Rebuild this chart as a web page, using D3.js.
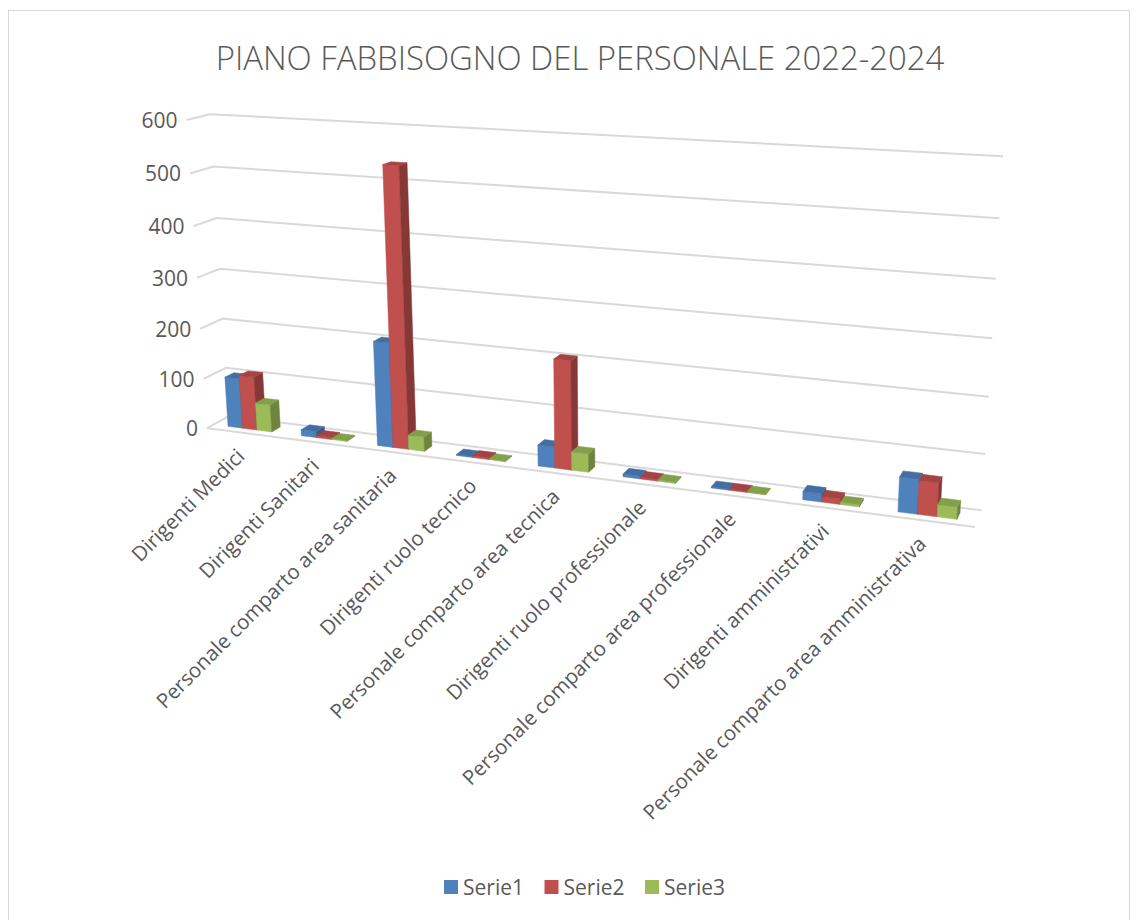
<!DOCTYPE html>
<html>
<head>
<meta charset="utf-8">
<script src="https://cdn.jsdelivr.net/npm/d3@7"></script>
<style>
  body { margin: 0; background: #fff; }
  svg { display: block; }
  text { font-family: "Open Sans", "Liberation Sans", sans-serif; fill: #595959; }
</style>
</head>
<body>
<svg id="chart" width="1138" height="920"></svg>
<script>
// ---- data ----
const chartTitle = "PIANO FABBISOGNO DEL PERSONALE 2022-2024";
const categories = [
  "Dirigenti Medici",
  "Dirigenti Sanitari",
  "Personale comparto area sanitaria",
  "Dirigenti ruolo tecnico",
  "Personale comparto area tecnica",
  "Dirigenti ruolo professionale",
  "Personale comparto area professionale",
  "Dirigenti amministrativi",
  "Personale comparto area amministrativa"
];
const seriesNames = ["Serie1", "Serie2", "Serie3"];
const serie1 = [100, 12, 203, 2, 40, 5, 2, 15, 62];
const serie2 = [107, 4, 535, 3, 205, 3, 2, 10, 60];
const serie3 = [55, 2, 28, 1, 35, 2, 1, 4, 22];
const valueTicks = [0, 100, 200, 300, 400, 500, 600];
const seriesColors = ["#4F81BD", "#C0504D", "#9BBB59"];

// ---- 3D frame: camera calibrated from where the plot box corners sit on the page ----
// world: x along categories (0..1), y along values (0..1), z depth (0 front .. 1 back)
const frameAnchors = [
  { w: [0, 1, 1], p: [210, 114] },
  { w: [1, 1, 1], p: [1003, 157] },
  { w: [0, 0.5, 1], p: [220, 268] },
  { w: [1, 0.5, 1], p: [993, 337] },
  { w: [0, 0, 1], p: [229, 417] },
  { w: [1, 0, 1], p: [981, 511] },
  { w: [0, 1, 0], p: [186, 121] },
  { w: [0, 0.5, 0], p: [197, 277] },
  { w: [0, 0, 0], p: [207, 428] },
  { w: [1, 0, 0], p: [975, 527] }
];

function solveCamera(anchors) {
  const nu = u => (u - 600) / 400, nv = v => (v - 300) / 400;
  const rows = [], rhs = [];
  anchors.forEach(({ w: [X, Y, Z], p: [pu, pv] }) => {
    const u = nu(pu), v = nv(pv);
    rows.push([X, Y, Z, 1, 0, 0, 0, 0, -u * X, -u * Y, -u * Z]); rhs.push(u);
    rows.push([0, 0, 0, 0, X, Y, Z, 1, -v * X, -v * Y, -v * Z]); rhs.push(v);
  });
  const n = 11;
  const M = Array.from({ length: n }, () => new Array(n + 1).fill(0));
  rows.forEach((r, k) => {
    for (let i = 0; i < n; i++) {
      for (let j = 0; j < n; j++) M[i][j] += r[i] * r[j];
      M[i][n] += r[i] * rhs[k];
    }
  });
  for (let c = 0; c < n; c++) {
    let piv = c;
    for (let r = c + 1; r < n; r++) if (Math.abs(M[r][c]) > Math.abs(M[piv][c])) piv = r;
    [M[c], M[piv]] = [M[piv], M[c]];
    for (let r = 0; r < n; r++) {
      if (r === c) continue;
      const f = M[r][c] / M[c][c];
      for (let j = c; j <= n; j++) M[r][j] -= f * M[c][j];
    }
  }
  return M.map((row, i) => row[n] / row[i]);
}

const cam = solveCamera(frameAnchors);
function project(X, Y, Z) {
  const w = cam[8] * X + cam[9] * Y + cam[10] * Z + 1;
  const u = (cam[0] * X + cam[1] * Y + cam[2] * Z + cam[3]) / w;
  const v = (cam[4] * X + cam[5] * Y + cam[6] * Z + cam[7]) / w;
  return [u * 400 + 600, v * 400 + 300];
}

// ---- scales ----
const xSlot = d3.scaleBand().domain(categories).range([0, 1]).paddingInner(0).paddingOuter(0);
const xSeries = d3.scaleBand().domain(seriesNames).range([0.2, 0.8]).paddingInner(0);
const yScale = d3.scaleLinear().domain([0, 600]).range([0, 1]);
const barDepth = [0.3, 0.7];

const svg = d3.select("#chart");

// chart area border
svg.append("rect")
  .attr("x", 8.5).attr("y", 10.5).attr("width", 1121).attr("height", 930)
  .attr("fill", "#fff").attr("stroke", "#d9d9d9").attr("stroke-width", 1);

const line = d3.line();

// gridlines on side and back walls
const grid = svg.append("g").attr("fill", "none").attr("stroke", "#d9d9d9").attr("stroke-width", 2);
valueTicks.forEach(t => {
  const y = yScale(t);
  grid.append("path").attr("d", line([project(0, y, 0), project(0, y, 1), project(1, y, 1)]));
});
// front edge of the floor (category axis)
grid.append("path").attr("d", line([project(0, 0, 0), project(1, 0, 0)]));

// value axis labels
svg.append("g").selectAll("text").data(valueTicks).join("text")
  .attr("x", d => project(0, yScale(d), 0)[0] - 9)
  .attr("y", d => project(0, yScale(d), 0)[1])
  .attr("text-anchor", "end")
  .attr("dominant-baseline", "central")
  .attr("font-size", 21)
  .text(d => d);

// bars, drawn left to right so nearer faces overlap
const seriesValues = [serie1, serie2, serie3];
const bars = [];
categories.forEach((cat, ci) => {
  seriesNames.forEach((s, si) => {
    const x0 = xSlot(cat) + xSeries(s) * xSlot.bandwidth();
    const x1 = x0 + xSeries.bandwidth() * xSlot.bandwidth();
    bars.push({ x0, x1, h: yScale(seriesValues[si][ci]), color: seriesColors[si] });
  });
});
const [z0, z1] = barDepth;
const barG = svg.append("g");
bars.forEach(b => {
  const c = d3.color(b.color);
  const faces = [
    { pts: [[b.x0, 0, z0], [b.x1, 0, z0], [b.x1, b.h, z0], [b.x0, b.h, z0]], fill: c.formatHex() },
    { pts: [[b.x1, 0, z0], [b.x1, 0, z1], [b.x1, b.h, z1], [b.x1, b.h, z0]], fill: c.darker(1.0).formatHex() },
    { pts: [[b.x0, b.h, z0], [b.x1, b.h, z0], [b.x1, b.h, z1], [b.x0, b.h, z1]], fill: c.darker(0.45).formatHex() }
  ];
  faces.forEach(f => {
    barG.append("path")
      .attr("d", line(f.pts.map(p => project(...p))) + "Z")
      .attr("fill", f.fill)
      .attr("stroke", f.fill)
      .attr("stroke-width", 0.5)
      .attr("stroke-linejoin", "round");
  });
});

// category labels, rotated
svg.append("g").selectAll("text").data(categories).join("text")
  .attr("transform", d => {
    const [px, py] = project(xSlot(d) + xSlot.bandwidth() / 2, 0, 0);
    return `translate(${px - 3},${py + 19}) rotate(-45)`;
  })
  .attr("text-anchor", "end")
  .attr("dominant-baseline", "central")
  .attr("font-size", 20.5)
  .text(d => d);

// title
const titleText = svg.append("text")
  .attr("x", 580).attr("y", 70)
  .attr("text-anchor", "middle")
  .attr("font-weight", 300)
  .attr("font-size", 34)
  .text(chartTitle);
const tw = titleText.node().getComputedTextLength();
titleText.attr("font-size", 34 * 729 / tw);

// legend
const legend = svg.append("g").attr("transform", "translate(444,880)");
seriesNames.forEach((s, i) => {
  const g = legend.append("g").attr("transform", `translate(${i * 100.5},0)`);
  g.append("rect").attr("width", 14).attr("height", 14).attr("fill", seriesColors[i]);
  g.append("text").attr("x", 19).attr("y", 7).attr("dominant-baseline", "central")
    .attr("font-size", 21).text(s);
});
</script>
</body>
</html>
